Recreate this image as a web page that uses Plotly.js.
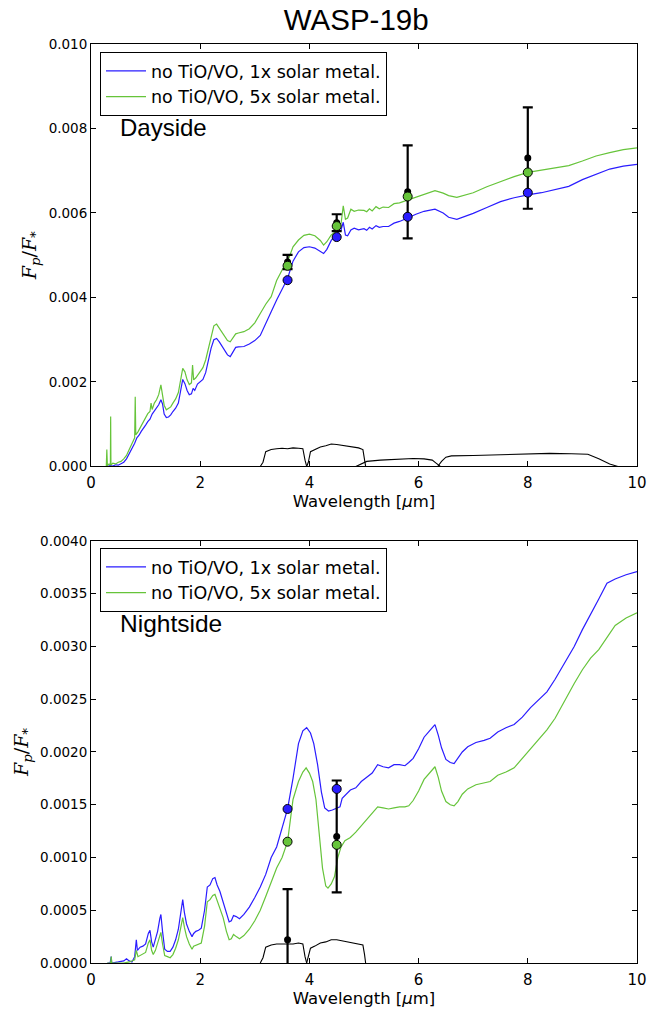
<!DOCTYPE html>
<html>
<head>
<meta charset="utf-8">
<script src="https://cdn.plot.ly/plotly-3.0.1.min.js"></script>
<style>html,body{margin:0;padding:0;background:#fff;}#chart{width:650px;height:1011px;}</style>
</head>
<body>
<div id="chart"></div>
<script>
// ---------- Dayside model spectra ----------
var dayWl1 = [0.30,0.35,0.40,0.45,0.50,0.55,0.60,0.65,0.70,0.75,0.80,0.84,0.88,0.92,0.96,1.00,1.04,1.08,1.12,1.16,1.20,1.24,1.28,1.31,1.34,1.38,1.42,1.46,1.50,1.55,1.60,1.64,1.68,1.72,1.76,1.80,1.84,1.87,1.90,1.95,2.00,2.05,2.10,2.15,2.20,2.25,2.30,2.35,2.40,2.45,2.50,2.55,2.60,2.65,2.70,2.80,2.90,3.00,3.10,3.20,3.30,3.40,3.50,3.60,3.70,3.80,3.90,4.00,4.10,4.20,4.26,4.32,4.40,4.50,4.58,4.62,4.66,4.70,4.76,4.82,4.90,5.00,5.05,5.10,5.15,5.22,5.28,5.35,5.45,5.55,5.65,5.80,5.95,6.10,6.30,6.45,6.55,6.70,6.85,7.00,7.25,7.50,7.75,8.00,8.25,8.50,8.75,9.00,9.25,9.50,9.75,10.0];
var dayBlue = [0.0,0.00002,0.00001,0.00004,0.00003,0.00006,0.0001,0.00018,0.0003,0.00042,0.00055,0.00068,0.00074,0.00083,0.00092,0.00098,0.00106,0.00112,0.00124,0.00132,0.00138,0.00146,0.00158,0.00148,0.00124,0.00116,0.00117,0.00122,0.00130,0.00138,0.00150,0.00180,0.00206,0.00196,0.00180,0.00170,0.00172,0.00185,0.00180,0.00195,0.00200,0.00206,0.00222,0.00250,0.00280,0.00300,0.00303,0.00295,0.00285,0.00275,0.00264,0.00260,0.00270,0.00282,0.00283,0.00284,0.00290,0.00298,0.00310,0.00340,0.00366,0.00394,0.00420,0.00445,0.00486,0.00508,0.00518,0.00520,0.00517,0.00510,0.00504,0.00514,0.00535,0.00550,0.00560,0.00578,0.00548,0.00546,0.00560,0.00564,0.00560,0.00563,0.00559,0.00566,0.00562,0.00570,0.00566,0.00568,0.00568,0.00576,0.00580,0.00588,0.00597,0.00604,0.00609,0.00600,0.00590,0.00585,0.00592,0.00599,0.00613,0.00627,0.00636,0.00643,0.00648,0.00655,0.00663,0.00679,0.00692,0.00704,0.00711,0.00715];

var dayWl5 = [0.28,0.29,0.30,0.33,0.355,0.36,0.365,0.40,0.45,0.50,0.55,0.60,0.65,0.70,0.75,0.80,0.81,0.82,0.86,0.90,0.95,1.00,1.04,1.08,1.10,1.12,1.16,1.20,1.24,1.28,1.31,1.34,1.38,1.42,1.46,1.50,1.55,1.60,1.64,1.68,1.72,1.76,1.80,1.84,1.86,1.88,1.92,1.96,2.00,2.05,2.10,2.15,2.20,2.25,2.30,2.35,2.40,2.45,2.50,2.55,2.60,2.65,2.70,2.80,2.90,3.00,3.10,3.20,3.30,3.40,3.50,3.60,3.70,3.80,3.90,4.00,4.10,4.20,4.26,4.32,4.40,4.50,4.58,4.62,4.66,4.70,4.76,4.82,4.90,5.00,5.05,5.10,5.15,5.22,5.28,5.35,5.45,5.55,5.65,5.80,5.95,6.10,6.30,6.45,6.55,6.70,6.85,7.00,7.25,7.50,7.75,8.00,8.25,8.50,8.75,9.00,9.25,9.50,9.75,10.0];
var dayGreen = [0.0,0.0004,0.00002,0.00006,0.00004,0.00118,0.00003,0.00008,0.00006,0.0001,0.00012,0.00018,0.00026,0.0004,0.00055,0.00068,0.00165,0.00075,0.00082,0.00092,0.00104,0.00114,0.00125,0.00130,0.00150,0.00135,0.00150,0.00158,0.00170,0.00193,0.00172,0.00145,0.00134,0.00137,0.00141,0.00150,0.00160,0.00175,0.00205,0.00232,0.00224,0.00205,0.00194,0.00198,0.00240,0.00205,0.00210,0.00218,0.00226,0.00234,0.00252,0.00280,0.00312,0.00333,0.00337,0.00328,0.00318,0.00308,0.00298,0.00295,0.00305,0.00314,0.00316,0.00319,0.00326,0.00340,0.00362,0.00384,0.00402,0.00440,0.00465,0.00485,0.00520,0.00536,0.00547,0.00550,0.00546,0.00535,0.00524,0.00532,0.00548,0.00558,0.00575,0.00617,0.00585,0.00588,0.00609,0.00604,0.00607,0.00606,0.00603,0.00610,0.00605,0.00615,0.00610,0.00614,0.00613,0.00622,0.00624,0.00631,0.00638,0.00645,0.00653,0.00647,0.00641,0.00637,0.00642,0.00648,0.00662,0.00674,0.00686,0.00696,0.00701,0.00706,0.00712,0.00723,0.00735,0.00743,0.00750,0.00754];

// ---------- Dayside observations ----------
var dayObsWl = [3.6, 4.5, 5.8, 8.0];
var dayObs = [0.00484, 0.00577, 0.0065, 0.0073];
var dayErr = [0.00017, 0.0002, 0.0011, 0.0012];
var dayModel1 = [0.00441, 0.00543, 0.00591, 0.00648];
var dayModel5 = [0.00475, 0.00569, 0.00639, 0.00696];

// ---------- Spitzer IRAC bandpasses (scaled) ----------
var ch1Wl = [3.10,3.15,3.20,3.30,3.40,3.50,3.60,3.70,3.80,3.88,3.92,3.95];
var ch1Day = [0,0.0001,0.00035,0.00040,0.00042,0.00043,0.00042,0.00044,0.00043,0.00042,0.00015,0];
var ch1Night = [0,0.00005,0.00015,0.00017,0.00018,0.00018,0.00018,0.00018,0.00019,0.00018,0.00006,0];
var ch2Wl = [3.95,3.98,4.02,4.10,4.20,4.30,4.40,4.50,4.60,4.70,4.80,4.90,4.98,5.01,5.03];
var ch2Day = [0,0.0001,0.00035,0.00040,0.00046,0.00049,0.00053,0.00052,0.00050,0.00047,0.00046,0.00044,0.00040,0.0002,0];
var ch2Night = [0,0.00005,0.00014,0.00016,0.00019,0.00020,0.00022,0.00022,0.00021,0.00020,0.00019,0.00018,0.00017,0.00008,0];
var ch3Wl = [4.85,4.95,5.05,5.3,5.6,5.9,6.1,6.25,6.32,6.40];
var ch3Day = [0,0.00006,0.00012,0.00015,0.00017,0.00019,0.00018,0.00015,0.00008,0];
var ch4Wl = [6.35,6.42,6.50,6.60,7.0,7.5,8.0,8.4,8.8,9.1,9.3,9.5,9.65];
var ch4Day = [0,0.00012,0.00022,0.00025,0.00026,0.00028,0.0003,0.00031,0.0003,0.00029,0.00018,0.00006,0];

// ---------- Nightside model spectra ----------
var nightWl1 = [0.30,0.35,0.37,0.38,0.50,0.60,0.65,0.70,0.75,0.80,0.83,0.85,0.90,0.95,1.00,1.05,1.08,1.11,1.14,1.18,1.22,1.26,1.28,1.31,1.35,1.40,1.45,1.50,1.55,1.60,1.65,1.68,1.71,1.75,1.80,1.85,1.88,1.92,1.97,2.02,2.08,2.13,2.18,2.23,2.27,2.31,2.36,2.42,2.48,2.53,2.57,2.61,2.66,2.72,2.80,2.90,3.00,3.10,3.20,3.30,3.40,3.50,3.60,3.70,3.80,3.88,3.95,4.02,4.08,4.15,4.22,4.28,4.35,4.42,4.50,4.56,4.60,4.68,4.75,4.85,4.95,5.05,5.15,5.25,5.35,5.45,5.55,5.65,5.75,5.82,5.90,6.00,6.10,6.20,6.30,6.36,6.42,6.50,6.58,6.65,6.72,6.80,6.90,7.05,7.20,7.31,7.45,7.60,7.75,7.90,8.05,8.20,8.35,8.50,8.70,8.85,9.00,9.15,9.30,9.45,9.60,9.80,10.0];
var nightBlue = [0,0,0.00006,0,0.00001,0.00002,0.00004,0.00002,0.00001,0.00006,0.00022,0.00012,0.00015,0.00016,0.00018,0.00028,0.00031,0.00020,0.00015,0.00022,0.00030,0.00042,0.00046,0.00030,0.00013,0.00011,0.00011,0.00015,0.00022,0.00032,0.00050,0.00060,0.00048,0.00037,0.00030,0.00025,0.00028,0.00030,0.00031,0.00033,0.00050,0.00072,0.00074,0.00080,0.00081,0.00074,0.00068,0.00058,0.00046,0.00039,0.00040,0.00045,0.00044,0.00042,0.00046,0.00053,0.00062,0.00072,0.00084,0.00100,0.00110,0.00128,0.00146,0.00175,0.00208,0.00220,0.00223,0.00218,0.00208,0.00188,0.00162,0.00147,0.00144,0.00145,0.00147,0.00148,0.00156,0.00160,0.00164,0.00166,0.00172,0.00176,0.00180,0.00188,0.00186,0.00185,0.00188,0.00188,0.00187,0.00190,0.00194,0.00203,0.00214,0.00220,0.00226,0.00216,0.00204,0.00193,0.00190,0.00189,0.00194,0.00200,0.00205,0.00209,0.00211,0.00213,0.00219,0.00223,0.00226,0.00233,0.00242,0.00250,0.00257,0.00269,0.00286,0.00300,0.00316,0.00330,0.00345,0.00360,0.00364,0.00368,0.00371];

var nightWl5 = [0.30,0.36,0.37,0.38,0.60,0.70,0.80,0.83,0.86,0.90,0.95,1.00,1.05,1.08,1.11,1.14,1.18,1.22,1.26,1.28,1.31,1.35,1.40,1.45,1.50,1.55,1.60,1.65,1.68,1.71,1.75,1.80,1.85,1.88,1.92,1.97,2.02,2.08,2.13,2.18,2.23,2.27,2.31,2.36,2.42,2.48,2.53,2.57,2.61,2.66,2.72,2.80,2.90,3.00,3.10,3.20,3.30,3.40,3.50,3.60,3.70,3.80,3.88,3.94,4.00,4.06,4.12,4.18,4.24,4.30,4.34,4.40,4.46,4.52,4.58,4.65,4.75,4.85,4.95,5.05,5.15,5.25,5.35,5.45,5.55,5.65,5.75,5.82,5.90,6.00,6.10,6.20,6.30,6.36,6.42,6.50,6.58,6.65,6.72,6.80,6.90,7.05,7.20,7.31,7.45,7.60,7.75,7.90,8.05,8.20,8.35,8.50,8.70,8.85,9.00,9.15,9.30,9.45,9.60,9.80,10.0];
var nightGreen = [0,0,0.00006,0,0,0.00001,0.00003,0.00012,0.00006,0.00007,0.00008,0.00010,0.00019,0.00022,0.00012,0.00008,0.00012,0.00019,0.00027,0.00029,0.00018,0.00007,0.00006,0.00005,0.00008,0.00014,0.00022,0.00036,0.00043,0.00034,0.00025,0.00018,0.00013,0.00016,0.00017,0.00018,0.00019,0.00035,0.00058,0.00060,0.00064,0.00065,0.00059,0.00053,0.00043,0.00030,0.00022,0.00023,0.00027,0.00025,0.00023,0.00026,0.00032,0.00040,0.00050,0.00063,0.00077,0.00090,0.00100,0.00115,0.00155,0.00172,0.00181,0.00185,0.00180,0.00172,0.00155,0.00120,0.00090,0.00073,0.00071,0.00075,0.00082,0.00100,0.00110,0.00116,0.00119,0.00124,0.00130,0.00136,0.00143,0.00148,0.00147,0.00146,0.00147,0.00148,0.00148,0.00149,0.00154,0.00163,0.00174,0.00180,0.00186,0.00176,0.00163,0.00153,0.00150,0.00149,0.00153,0.00160,0.00165,0.00169,0.00171,0.00172,0.00178,0.00181,0.00185,0.00194,0.00203,0.00213,0.00221,0.00232,0.00251,0.00265,0.00278,0.00289,0.00297,0.00308,0.00320,0.00327,0.00332];

// ---------- Nightside observations ----------
var nightObsWl = [3.6, 4.5];
var nightObs = [0.00022, 0.0012];
var nightErr = [0.00048, 0.00053];
var nightModel1 = [0.00146, 0.00165];
var nightModel5 = [0.00115, 0.00112];

var legendNames = ['no TiO/VO, 1x solar metal.', 'no TiO/VO, 5x solar metal.'];
var BLUE = '#2a1cff', GREEN = '#66c43a';

function lineTrace(x, y, color, name, xa, ya, leg, show) {
  return {x: x, y: y, type: 'scatter', mode: 'lines', name: name,
    line: {color: color, width: 1.2}, xaxis: xa, yaxis: ya,
    legend: leg, showlegend: show, hoverinfo: 'skip'};
}
function filt(x, y, xa, ya) {
  return {x: x, y: y, type: 'scatter', mode: 'lines', line: {color: 'black', width: 1.1},
    xaxis: xa, yaxis: ya, showlegend: false, hoverinfo: 'skip'};
}
function obs(x, y, e, xa, ya) {
  return {x: x, y: y, type: 'scatter', mode: 'markers', xaxis: xa, yaxis: ya, showlegend: false,
    marker: {color: 'black', size: 7},
    error_y: {type: 'data', array: e, visible: true, color: 'black', thickness: 2.2, width: 5}};
}
function modelPts(x, y, color, xa, ya) {
  return {x: x, y: y, type: 'scatter', mode: 'markers', xaxis: xa, yaxis: ya, showlegend: false,
    marker: {color: color, size: 9, line: {color: 'black', width: 1}}};
}

var traces = [
  lineTrace(dayWl1, dayBlue, BLUE, legendNames[0], 'x', 'y', 'legend', true),
  lineTrace(dayWl5, dayGreen, GREEN, legendNames[1], 'x', 'y', 'legend', true),
  filt(ch1Wl, ch1Day, 'x', 'y'), filt(ch2Wl, ch2Day, 'x', 'y'),
  filt(ch3Wl, ch3Day, 'x', 'y'), filt(ch4Wl, ch4Day, 'x', 'y'),
  obs(dayObsWl, dayObs, dayErr, 'x', 'y'),
  modelPts(dayObsWl, dayModel1, BLUE, 'x', 'y'),
  modelPts(dayObsWl, dayModel5, GREEN, 'x', 'y'),

  lineTrace(nightWl1, nightBlue, BLUE, legendNames[0], 'x2', 'y2', 'legend2', true),
  lineTrace(nightWl5, nightGreen, GREEN, legendNames[1], 'x2', 'y2', 'legend2', true),
  filt(ch1Wl, ch1Night, 'x2', 'y2'), filt(ch2Wl, ch2Night, 'x2', 'y2'),
  obs(nightObsWl, nightObs, nightErr, 'x2', 'y2'),
  modelPts(nightObsWl, nightModel1, BLUE, 'x2', 'y2'),
  modelPts(nightObsWl, nightModel5, GREEN, 'x2', 'y2')
];

var tickF = {family: 'DejaVu Sans', size: 15, color: 'black'};
var yTickF = {family: 'DejaVu Sans', size: 13.5, color: 'black'};
function xax(anchor) {
  return {domain: [0, 1], range: [0, 10], dtick: 2, anchor: anchor, ticks: 'inside', ticklen: 5,
    tickcolor: 'black', showline: true, linecolor: 'black', linewidth: 1, mirror: 'ticks',
    showgrid: false, zeroline: false, tickfont: tickF, automargin: false, ticklabelstandoff: 3,
    title: {text: 'Wavelength [<i>μ</i>m]', font: {family: 'DejaVu Sans', size: 16.5, color: 'black'}, standoff: 3}};
}
function yax(domain, range, dtick, fmt, anchor) {
  return {domain: domain, range: range, dtick: dtick, tickformat: fmt, anchor: anchor, ticks: 'inside',
    ticklen: 5, tickcolor: 'black', showline: true, linecolor: 'black', linewidth: 1, mirror: 'ticks',
    showgrid: false, zeroline: false, tickfont: yTickF, automargin: false,
    title: {text: '<i>F</i><sub><i>p</i></sub>/<i>F</i><sub>*</sub>', font: {family: 'DejaVu Serif', size: 19, color: 'black'}, standoff: 6}};
}

var legFont = {family: 'DejaVu Sans', size: 17.5, color: 'black'};
var layout = {
  width: 650, height: 1011,
  margin: {l: 91, r: 13, t: 44, b: 48},
  paper_bgcolor: 'white', plot_bgcolor: 'white',
  title: {text: 'WASP-19b', font: {family: 'Liberation Sans', size: 29.5, color: 'black'},
    x: 0.548, xanchor: 'center', y: 0.981, yanchor: 'middle', xref: 'container', yref: 'container'},
  xaxis: xax('y'),
  yaxis: yax([0.5403, 1], [0, 0.010], 0.002, '.3f', 'x'),
  xaxis2: xax('y2'),
  yaxis2: yax([0, 0.4592], [0, 0.004], 0.0005, '.4f', 'x2'),
  legend: {x: 0.0165, y: 0.9913, xanchor: 'left', yanchor: 'top', bordercolor: 'black', borderwidth: 1,
    bgcolor: 'white', font: legFont, tracegroupgap: 0, itemwidth: 40},
  legend2: {x: 0.0165, y: 0.4516, xanchor: 'left', yanchor: 'top', bordercolor: 'black', borderwidth: 1,
    bgcolor: 'white', font: legFont, tracegroupgap: 0, itemwidth: 40},
  annotations: [
    {text: 'Dayside', xref: 'paper', yref: 'paper', x: 0.049, y: 0.9086, xanchor: 'left', yanchor: 'middle',
      showarrow: false, font: {family: 'Liberation Sans', size: 24, color: 'black'}},
    {text: 'Nightside', xref: 'paper', yref: 'paper', x: 0.050, y: 0.3690, xanchor: 'left', yanchor: 'middle',
      showarrow: false, font: {family: 'Liberation Sans', size: 24.5, color: 'black'}}
  ],
  showlegend: true
};

Plotly.newPlot('chart', traces, layout, {displayModeBar: false, staticPlot: true});
</script>
</body>
</html>
